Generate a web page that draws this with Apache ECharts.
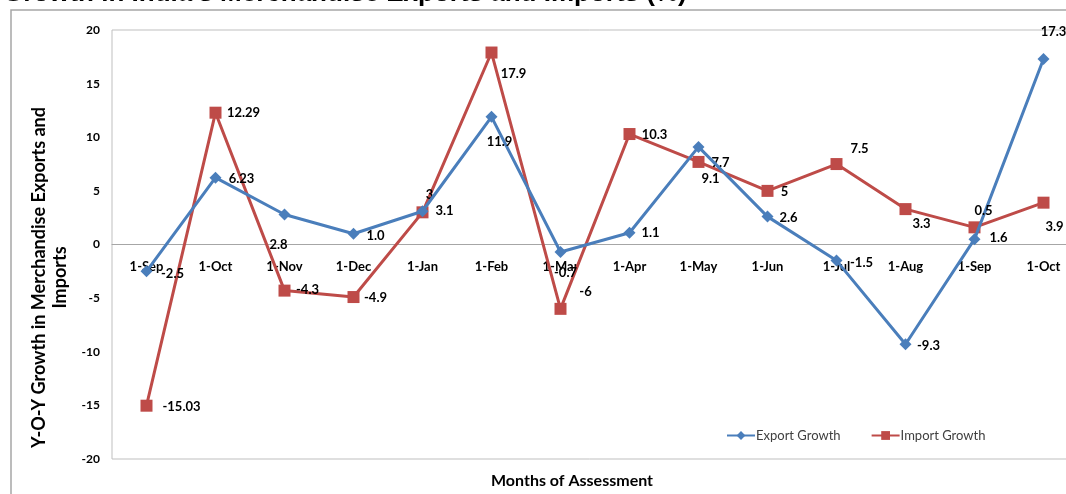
<!DOCTYPE html>
<html>
<head>
<meta charset="utf-8">
<script src="https://cdn.jsdelivr.net/npm/echarts@6/dist/echarts.min.js"></script>
<style>
  html, body { margin: 0; padding: 0; background: #fff; }
  #chart { width: 1066px; height: 494px; }
</style>
</head>
<body>
<div id="chart"></div>
<script>
// data
const months = ['1-Sep', '1-Oct', '1-Nov', '1-Dec', '1-Jan', '1-Feb', '1-Mar',
                '1-Apr', '1-May', '1-Jun', '1-Jul', '1-Aug', '1-Sep', '1-Oct']
const exportGrowth = [-2.5, 6.23, 2.8, 1.0, 3.1, 11.9, -0.7, 1.1, 9.1, 2.6, -1.5, -9.3, 0.5, 17.3]
const importGrowth = [-15.03, 12.29, -4.3, -4.9, 3, 17.9, -6, 10.3, 7.7, 5, 7.5, 3.3, 1.6, 3.9]
// what each label shows (as printed on the chart)
const exportText = ['-2.5', '6.23', '2.8', '1.0', '3.1', '11.9', '-0.7', '1.1', '9.1', '2.6', '-1.5', '-9.3', '0.5', '17.3']
const importText = ['-15.03', '12.29', '-4.3', '-4.9', '3', '17.9', '-6', '10.3', '7.7', '5', '7.5', '3.3', '1.6', '3.9']

// label offsets (px, from the marker centre)
const exportOffsets = [[26, 2], [26, 1], [-6, 30], [22, 2], [22, 0], [8, 25], [5, 21],
                       [21, 0], [12, 32], [21, 1], [25, 2], [23, 2], [9, -28], [10, -27]]
const importOffsets = [[35, 1], [28, 0], [23, -1], [22, 1], [7, -18], [22, 21], [25, -17],
                       [25, 1], [22, 1], [17, 1], [23, -15], [16, 15], [24, 10], [11, 24]]

const blue = '#4a7ebb'
const red = '#be4b48'
const font = 'Lato, "Open Sans", sans-serif'

function withLabels(values, texts, offsets) {
    return values.map((v, i) => ({
        value: v,
        label: { formatter: texts[i], offset: offsets[i] }
    }))
}

let chart = echarts.init(document.getElementById('chart'))

let labelStyle = {
    show: true,
    position: 'inside',
    color: '#000',
    fontSize: 13,
    fontWeight: 'bold',
    fontFamily: font,
}

// plot box: top 30, bottom 459 -> zero line sits 214.5px above the bottom
chart.setOption({
    animation: false,
    title: {
        text: "Growth in India's Merchandise Exports and Imports (%)",
        left: -2,
        top: -24,
        textStyle: {
            fontFamily: '"Liberation Sans", Arial, sans-serif',
            fontSize: 26,
            fontWeight: 'bold',
            color: '#000',
        },
    },
    graphic: [{//outer chart frame
        type: 'rect',
        shape: { x: 11, y: 10, width: 1100, height: 520 },
        style: { fill: 'none', stroke: '#a6a6a6', lineWidth: 1.5 },
        silent: true,
    }],
    legend: {
        left: 721,
        top: 424,
        itemWidth: 28,
        itemHeight: 11,
        itemGap: 30,
        textStyle: { fontFamily: font, fontSize: 13, color: '#404040', padding: [0, 0, 0, -4] },
        data: ['Export Growth', 'Import Growth'],
    },
    grid: {
        left: 112,
        top: 30,
        right: -12,
        bottom: 35,
        outerBoundsMode: 'none',
        containLabel: false,
        show: true,
        borderColor: '#bfbfbf',
        borderWidth: 1,
    },
    xAxis: {
        type: 'category',
        data: months,
        offset: -214.5,
        name: 'Months of Assessment',
        nameLocation: 'middle',
        nameGap: 228,
        nameTextStyle: { fontFamily: font, fontSize: 16, fontWeight: 'bold', color: '#000', padding: [0, 46, 0, 0] },
        axisLine: { onZero: false, lineStyle: { color: '#a6a6a6', width: 1 } },
        axisTick: { show: false },
        axisLabel: { fontFamily: font, fontSize: 13, fontWeight: 'bold', color: '#000', margin: 16 },
    },
    yAxis: {
        type: 'value',
        min: -20,
        max: 20,
        interval: 5,
        name: 'Y-O-Y Growth in Merchandise Exports and\nImports',
        nameLocation: 'middle',
        nameGap: 35,
        nameTextStyle: { fontFamily: font, fontSize: 18, fontWeight: 'bold', color: '#000', lineHeight: 21, padding: [0, 66, 0, 0] },
        splitLine: { show: false },
        axisLine: { show: false },
        axisLabel: { fontFamily: font, fontSize: 12, fontWeight: 'bold', color: '#000', margin: 12 },
    },
    series: [
        {
            name: 'Export Growth',
            type: 'line',
            data: withLabels(exportGrowth, exportText, exportOffsets),
            symbol: 'diamond',
            symbolSize: 12,
            color: blue,
            lineStyle: { width: 3 },
            label: labelStyle,
            z: 3,
        },
        {
            name: 'Import Growth',
            type: 'line',
            data: withLabels(importGrowth, importText, importOffsets),
            symbol: 'rect',
            symbolSize: 12,
            color: red,
            lineStyle: { width: 3 },
            label: labelStyle,
            z: 2,
        },
    ],
})
</script>
</body>
</html>
